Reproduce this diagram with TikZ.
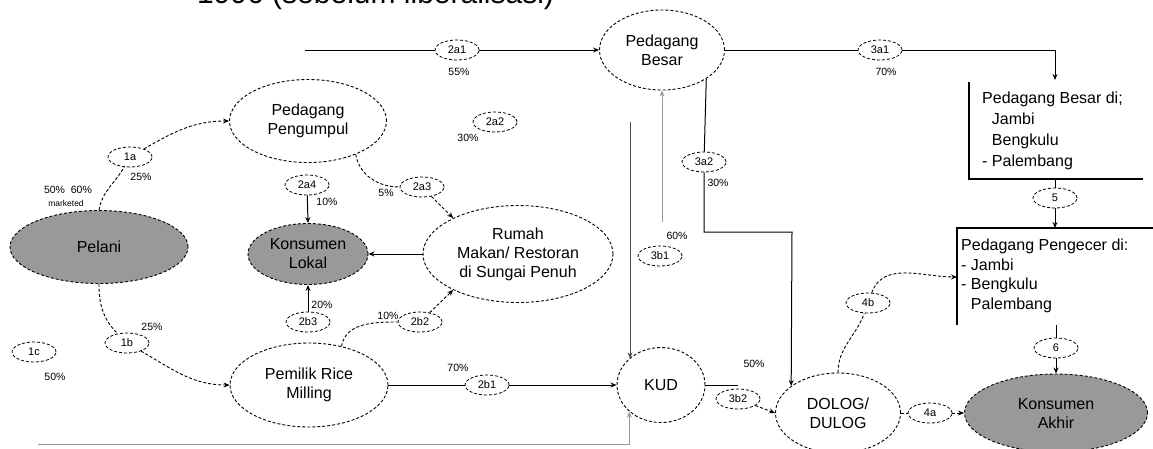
\documentclass[tikz,border=0pt]{standalone}
\usepackage{fontspec}
\setmainfont{Liberation Sans}
\usetikzlibrary{shapes.geometric,arrows.meta}

\begin{document}
\begin{tikzpicture}[x=1pt,y=1pt]

		\tikzset{
		  actor/.style={
			ellipse,
			draw,
			dash pattern=on 3pt off 2pt,
			line width=0.9pt,
			inner sep=0pt,
			align=center,
			font=\fontsize{16}{19}\selectfont,
		  },
		  sink/.style={actor, fill=black!40},
		  tag/.style={
			ellipse,
			draw,
			dash pattern=on 3pt off 2pt,
			line width=0.8pt,
			inner sep=0pt,
			minimum width=44pt,
			minimum height=20pt,
			font=\fontsize{11}{11}\selectfont,
		  },
		  pct/.style={inner sep=0pt, font=\fontsize{10.5}{10.5}\selectfont},
		  flowline/.style={line width=1pt},
		  flowarrow/.style={flowline, -{Stealth[length=6pt,width=5pt]}},
		  dflow/.style={line width=0.9pt, dash pattern=on 3pt off 2pt},
		  dflowarrow/.style={dflow, -{Stealth[length=6pt,width=5pt]}},
		  greyarrow/.style={line width=1pt, black!40, -{Stealth[length=6pt,width=5pt]}},
		  darkarrow/.style={line width=1pt, black!70, -{Stealth[length=6pt,width=5pt]}},
		  boxline/.style={line width=1.2pt},
		  boxtext/.style={inner sep=0pt, anchor=north west, align=left, font=\fontsize{16}{21}\selectfont},
		}
		\useasboundingbox (0,0) rectangle (1153,-448);
		\node[anchor=base west, inner sep=0pt, font=\fontsize{30}{30}\selectfont] (title) at (197,-3) {1996 (sebelum liberalisasi)};

		% actors
		\node[sink, minimum width=178pt, minimum height=73pt] (pelani) at (99,-247) {Pelani};
		\node[actor, minimum width=157pt, minimum height=83pt] (pengumpul) at (308,-121) {Pedagang\\Pengumpul};
		\node[sink, minimum width=120pt, minimum height=61pt] (lokal) at (308,-254) {Konsumen\\Lokal};
		\node[actor, minimum width=190pt, minimum height=97pt] (rumah) at (518,-254) {Rumah\\Makan/ Restoran\\di Sungai Penuh};
		\node[actor, minimum width=158pt, minimum height=84pt] (milling) at (309,-385) {Pemilik Rice\\Milling};
		\node[actor, minimum width=88pt, minimum height=75pt] (kud) at (661,-385) {KUD};
		\node[actor, minimum width=125pt, minimum height=80pt] (besar) at (662,-50) {Pedagang\\Besar};
		\node[actor, minimum width=125pt, minimum height=80pt] (dolog) at (838,-413) {DOLOG/\\DULOG};
		\node[sink, minimum width=183pt, minimum height=78pt] (akhir) at (1056,-413) {Konsumen\\Akhir};

		% boxes
		\node[boxtext] (besardi) at (982,-92) {Pedagang Besar di;\\\hphantom{- }Jambi\\\hphantom{- }Bengkulu\\- Palembang};
		\draw[boxline] (969,-82) -- (969,-179) -- (1143,-179);
		\node[boxtext, font=\fontsize{16}{19.5}\selectfont] (pengecer) at (961,-239) {Pedagang Pengecer di:\\- Jambi\\- Bengkulu\\\hphantom{- }Palembang};
		\draw[boxline] (1153,-228) -- (957,-228) -- (957,-325);

		% tags
		\node[tag] (t1a) at (130,-157) {1a};
		\node[tag] (t1b) at (127,-343) {1b};
		\node[tag] (t1c) at (34,-352) {1c};
		\node[tag] (t2a1) at (457,-50) {2a1};
		\node[tag] (t2a2) at (495,-122) {2a2};
		\node[tag] (t2a3) at (422,-187) {2a3};
		\node[tag] (t2a4) at (307,-185) {2a4};
		\node[tag] (t2b1) at (487,-385) {2b1};
		\node[tag] (t2b2) at (420,-322) {2b2};
		\node[tag] (t2b3) at (308,-322) {2b3};
		\node[tag] (t3a1) at (880,-50) {3a1};
		\node[tag] (t3a2) at (704,-162) {3a2};
		\node[tag] (t3b1) at (660,-256) {3b1};
		\node[tag] (t3b2) at (738,-399) {3b2};
		\node[tag] (t4a) at (930,-413) {4a};
		\node[tag] (t4b) at (868,-303) {4b};
		\node[tag] (t5) at (1055,-198) {5};
		\node[tag] (t6) at (1056,-348) {6};

		% shares
		\node[pct] (p1a) at (141,-177) {25\%};
		\node[pct] (p0) at (68,-190) {50\%\ \ 60\%};
		\node[pct, font=\fontsize{8.5}{8.5}\selectfont] (pm) at (66,-203) {marketed};
		\node[pct] (p1b) at (152,-327) {25\%};
		\node[pct] (p1c) at (55,-377) {50\%};
		\node[pct] (p2a1) at (459,-72) {55\%};
		\node[pct] (p2a2) at (468,-138) {30\%};
		\node[pct] (p2a3) at (386,-193) {5\%};
		\node[pct] (p2a4) at (327,-202) {10\%};
		\node[pct] (p2b3) at (322,-305) {20\%};
		\node[pct] (p2b2) at (388,-316) {10\%};
		\node[pct] (p2b1) at (458,-368) {70\%};
		\node[pct] (p3a1) at (886,-72) {70\%};
		\node[pct] (p3a2) at (718,-183) {30\%};
		\node[pct] (p3b1) at (677,-236) {60\%};
		\node[pct] (p3b2) at (754,-364) {50\%};

		% free ends
		\coordinate (s2a1) at (305,-50);
		\coordinate (k3a1) at (1055,-80);
		\coordinate (j3a2) at (792,-232);
		\coordinate (s3b1) at (662,-222);
		\coordinate (skud) at (630,-122);
		\coordinate (sbot) at (38,-444);
		\coordinate (e4b) at (957,-277);
		\coordinate (b1foot) at (1055,-179);
		\coordinate (b2head) at (1055,-228);
		\coordinate (b2foot) at (1056,-325);

		% connectors
		\draw[dflow] (pelani.north) to[out=80,in=240] (t1a);
		\draw[dflowarrow] (t1a) to[out=30,in=180] (pengumpul.west);
		\draw[dflow] (pelani.south) to[out=-90,in=135] (t1b);
		\draw[dflowarrow] (t1b) to[out=-30,in=180] (milling.west);
		\draw[dflow] (pengumpul.-35) to[out=-80,in=180] (t2a3);
		\draw[dflowarrow] (t2a3) -- (rumah.151);
		\draw[dflow] (milling.50) to[out=80,in=180] (t2b2);
		\draw[dflowarrow] (t2b2) -- (rumah.209);
		\draw[flowarrow] (t2a4) -- (lokal.north);
		\draw[flowarrow] (t2b3) -- (lokal.south);
		\draw[flowarrow] (rumah.west) -- (lokal.east);
		\draw[flowline] (s2a1) -- (t2a1);
		\draw[flowarrow] (t2a1) -- (besar.west);
		\draw[flowline] (besar.east) -- (t3a1);
		\draw[flowarrow] (t3a1) -| (k3a1);
		\draw[flowline] (besar.-33) -- (t3a2);
		\draw[flowarrow] (t3a2) |- (j3a2) -- (dolog.150);
		\draw[greyarrow] (s3b1) -- (besar.south);
		\draw[darkarrow] (skud) -- (skud |- kud.140);
		\draw[greyarrow] (sbot) -| (kud.220);
		\draw[flowline] (milling.east) -- (t2b1);
		\draw[flowarrow] (t2b1) -- (kud.west);
		\draw[flowline] (kud.east) -- (kud.east -| t3b2);
		\draw[dflowarrow] (t3b2) -- (dolog.west);
		\draw[dflow] (dolog) -- (t4a);
		\draw[dflowarrow] (t4a) -- (akhir);
		\draw[dflow] (dolog.north) to[out=90,in=250] (t4b);
		\draw[dflowarrow] (t4b) to[out=70,in=180] (e4b);
		\draw[flowline] (b1foot) -- (t5);
		\draw[flowarrow] (t5) -- (b2head);
		\draw[flowline] (b2foot) -- (t6);
		\draw[flowarrow] (t6) -- (akhir.north);

\end{tikzpicture}
\end{document}
